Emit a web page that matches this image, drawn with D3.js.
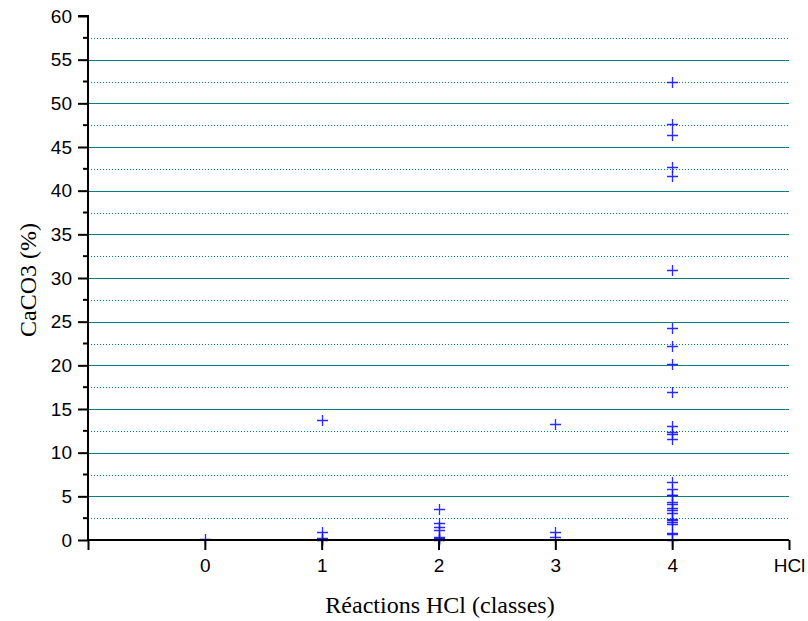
<!DOCTYPE html>
<html>
<head>
<meta charset="utf-8">
<script src="https://cdn.jsdelivr.net/npm/d3@7"></script>
<style>
  body { margin: 0; background: #fff; }
  svg { display: block; }
</style>
</head>
<body>
<svg id="chart" width="808" height="621"></svg>
<script>
// Data: HCl reaction class vs CaCO3 (%)
const class0 = [0.1];
const class1 = [13.7, 0.9, 0.25, 0.15, 0.05];
const class2 = [3.5, 1.9, 1.5, 1.15, 0.35, 0.2, 0.1, 0.0];
const class3 = [13.3, 0.9, 0.35];
const class4 = [52.4, 47.6, 46.4, 42.7, 41.7, 30.9, 24.3, 22.2, 20.1, 17.0,
                13.1, 12.4, 12.1, 11.6, 6.6, 5.85, 5.2, 5.1, 4.4, 4.1, 3.7, 3.45,
                3.1, 2.4, 2.3, 2.05, 1.8, 0.8, 0.7, 0.05];
const classes = [0, 1, 2, 3, 4];
const seriesByClass = [class0, class1, class2, class3, class4];
const xTickValues = [-1, 0, 1, 2, 3, 4, 5];
const xTickLabels = ["", "0", "1", "2", "3", "4", "HCl"];
const yMajorTicks = [0, 5, 10, 15, 20, 25, 30, 35, 40, 45, 50, 55, 60];
const yMinorTicks = [2.5, 7.5, 12.5, 17.5, 22.5, 27.5, 32.5, 37.5, 42.5, 47.5, 52.5, 57.5];
const xTitle = "Réactions HCl (classes)";
const yTitle = "CaCO3 (%)";

const points = [];
classes.forEach((c, i) => seriesByClass[i].forEach(v => points.push({x: c, y: v})));

const svg = d3.select("#chart");
const x = d3.scaleLinear().domain([-1, 5]).range([88, 789]);
const y = d3.scaleLinear().domain([0, 60]).range([540, 16]);

const teal = "#008080";

// Grid lines
svg.append("g").selectAll("line.major")
  .data(yMajorTicks.filter(v => v > 0 && v < 60))
  .join("line")
  .attr("x1", x(-1)).attr("x2", x(5))
  .attr("y1", d => Math.round(y(d)) + 0.5).attr("y2", d => Math.round(y(d)) + 0.5)
  .attr("stroke", teal).attr("stroke-width", 1.2);

svg.append("g").selectAll("line.minor")
  .data(yMinorTicks)
  .join("line")
  .attr("x1", x(-1)).attr("x2", x(5))
  .attr("y1", d => Math.round(y(d)) + 0.5).attr("y2", d => Math.round(y(d)) + 0.5)
  .attr("stroke", teal).attr("stroke-width", 1)
  .attr("stroke-dasharray", "1,2");

// Points (plus markers)
const s = 5.5;
const pg = svg.append("g");
pg.selectAll("path")
  .data(points)
  .join("path")
  .attr("d", d => {
    const cx = Math.round(x(d.x)) + 0.5, cy = Math.round(y(d.y)) + 0.5;
    return `M${cx - s},${cy}H${cx + s}M${cx},${cy - s}V${cy + s}`;
  })
  .attr("stroke", "#1414ff").attr("stroke-width", 1.3).attr("fill", "none")
  .attr("stroke-opacity", 0.9);

const tickFont = "Liberation Sans, Arial, sans-serif";
const tickSize = 19;

// Y axis
const yAxis = d3.axisLeft(y).tickValues(yMajorTicks).tickSize(10).tickPadding(6)
  .tickFormat(d3.format("d"));
const yg = svg.append("g").attr("transform", "translate(88,0)").call(yAxis);
yg.select(".domain").attr("stroke", "#000").attr("stroke-width", 2)
  .attr("d", `M-10,${y(60)}H0V${y(0)}`);
yg.selectAll(".tick line").attr("stroke", "#000").attr("stroke-width", 2);
yg.selectAll(".tick text").attr("font-family", tickFont)
  .attr("font-size", tickSize).attr("fill", "#000");
yg.selectAll("line.minortick")
  .data(yMinorTicks).join("line").attr("class", "minortick")
  .attr("x1", -5).attr("x2", 0)
  .attr("y1", d => y(d)).attr("y2", d => y(d))
  .attr("stroke", "#000").attr("stroke-width", 2);

// X axis
const xAxis = d3.axisBottom(x).tickValues(xTickValues).tickSize(10).tickPadding(9)
  .tickFormat((d, i) => xTickLabels[i]);
const xg = svg.append("g").attr("transform", "translate(0,540)").call(xAxis);
xg.select(".domain").attr("stroke", "#000").attr("stroke-width", 2)
  .attr("d", `M${x(-1)},0H${x(5)}`);
xg.selectAll(".tick line").attr("stroke", "#000").attr("stroke-width", 2);
xg.selectAll(".tick text").attr("font-family", tickFont)
  .attr("font-size", tickSize).attr("fill", "#000");

// Axis titles
svg.append("text")
  .attr("x", 440).attr("y", 613)
  .attr("text-anchor", "middle")
  .attr("font-family", "Liberation Serif, Times New Roman, serif")
  .attr("font-size", 24)
  .text(xTitle);

svg.append("text")
  .attr("transform", "translate(36,280) rotate(-90)")
  .attr("text-anchor", "middle")
  .attr("font-family", "Liberation Serif, Times New Roman, serif")
  .attr("font-size", 24)
  .text(yTitle);
</script>
</body>
</html>
